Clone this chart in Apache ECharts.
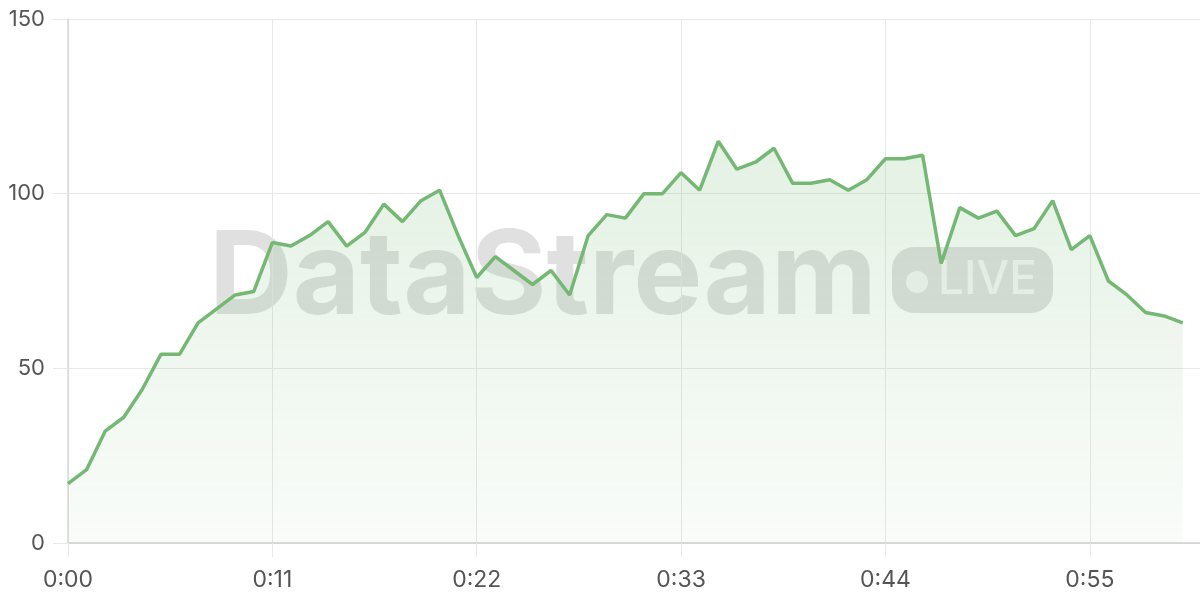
<!DOCTYPE html>
<html>
<head>
<meta charset="utf-8">
<style>html,body{margin:0;padding:0;background:#fff;}#c{width:1200px;height:600px;}</style>
<script src="https://cdn.jsdelivr.net/npm/echarts@6/dist/echarts.min.js"></script>
</head>
<body>
<div id="c"></div>
<script>
const seconds = [0,1,2,3,4,5,6,7,8,9,10,11,12,13,14,15,16,17,18,19,20,21,22,23,24,25,26,27,28,29,30,31,32,33,34,35,36,37,38,39,40,41,42,43,44,45,46,47,48,49,50,51,52,53,54,55,56,57,58,59,60];
const values = [17,21,32,36,44,54,54,63,67,71,72,86,85,88,92,85,89,97,92,98,101,88,76,82,78,74,78,71,88,94,93,100,100,106,101,115,107,109,113,103,103,104,101,104,110,110,111,80,96,93,95,88,90,98,84,88,75,71,66,65,63];
const xTickLabels = ["0:00","0:11","0:22","0:33","0:44","0:55"];
const yTickLabels = ["0","50","100","150"];

const chart = echarts.init(document.getElementById('c'), null, {renderer:'canvas'});
const font = 'Inter, "Noto Sans", sans-serif';
chart.setOption({
  animation: false,
  grid: {left: 68, right: 0, top: 19, bottom: 57},
  graphic: [
    {type:'text', z:-5, left: 209, top: 221, style:{text:'DataStream', font:'bold 116px Inter, "Noto Sans", sans-serif', fill:'rgba(70,70,70,0.17)'}},
    {type:'rect', z:-5, shape:{x:892, y:247, width:161, height:66, r:22}, style:{fill:'rgba(70,70,70,0.17)'}},
    {type:'circle', z:-4, shape:{cx:917, cy:282, r:11}, style:{fill:'rgba(255,255,255,0.7)'}},
    {type:'text', z:-4, left: 938, top: 257, style:{text:'LIVE', font:'500 46px Inter, "Noto Sans", sans-serif', fill:'rgba(255,255,255,0.72)'}}
  ],
  xAxis: {
    type: 'value', min: 0, max: 60.93, interval: 11,
    axisLine: {show: true, lineStyle: {color: '#cfcfcf', width: 1.5}},
    axisTick: {show: true, length: 14, lineStyle: {color: '#e8e8e8'}},
    splitLine: {show: true, lineStyle: {color: '#e8e8e8', width: 1}},
    axisLabel: {
      margin: 26, color: '#555', fontSize: 23, fontFamily: font, showMaxLabel: false,
      formatter: v => { const i = Math.round(v / 11); return (v % 11 === 0 && i < xTickLabels.length) ? xTickLabels[i] : ''; }
    }
  },
  yAxis: {
    type: 'value', min: 0, max: 150, interval: 50,
    axisLine: {show: true, lineStyle: {color: '#d8d8d8', width: 1.5}},
    axisTick: {show: true, length: 15, lineStyle: {color: '#e8e8e8'}},
    splitLine: {show: true, lineStyle: {color: '#e8e8e8', width: 1}},
    axisLabel: {margin: 23, color: '#555', fontSize: 22, fontFamily: font,
      formatter: v => yTickLabels[Math.round(v / 50)]}
  },
  series: [{
    type: 'line',
    data: seconds.map((s, i) => [s, values[i]]),
    symbol: 'none',
    lineStyle: {color: '#74b874', width: 3.5},
    itemStyle: {color: '#74b874'},
    areaStyle: {
      color: new echarts.graphic.LinearGradient(0, 0, 0, 1, [
        {offset: 0, color: 'rgba(116,184,116,0.28)'},
        {offset: 1, color: 'rgba(116,184,116,0.06)'}
      ])
    }
  }]
});
</script>
</body>
</html>
